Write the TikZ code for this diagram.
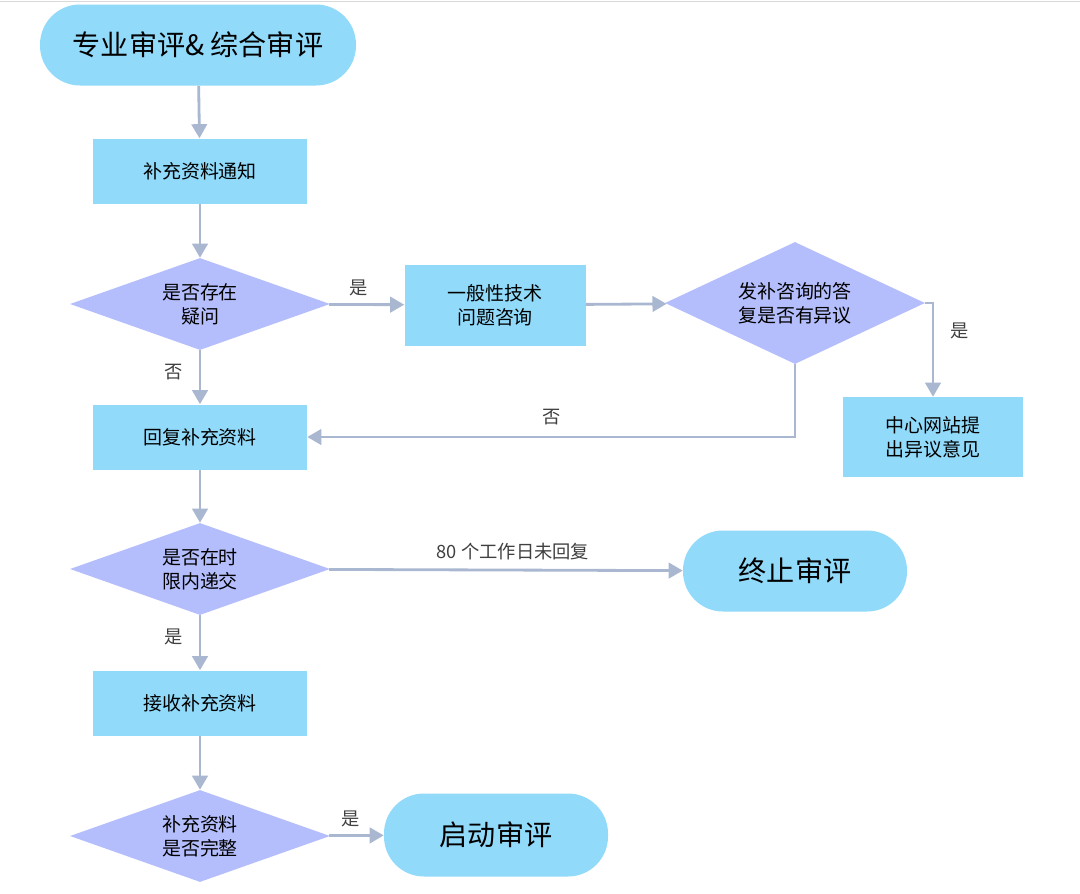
\documentclass[tikz,border=0pt]{standalone}
\usepackage{fontspec}
\setmainfont{Noto Sans CJK SC}
\usetikzlibrary{shapes.geometric,arrows.meta}
\definecolor{pillblue}{HTML}{91DAFA}
\definecolor{boxblue}{HTML}{91DAFA}
\definecolor{diamblue}{HTML}{B4BEFC}
\definecolor{arrowgray}{HTML}{A9B8D0}
\begin{document}
\begin{tikzpicture}[x=0.025cm,y=-0.025cm,
    pill/.style={rounded corners=40*0.025cm, fill=pillblue, minimum height=81*0.025cm, align=center, font=\fontsize{20}{24}\selectfont},
    box/.style={fill=boxblue, minimum width=214*0.025cm, minimum height=65*0.025cm, align=center, font=\fontsize{13.5}{17}\selectfont},
    dia/.style={diamond, fill=diamblue, aspect=2.8, minimum width=260*0.025cm, minimum height=92*0.025cm, inner sep=0pt, align=center, font=\fontsize{13.5}{17}\selectfont},
    flow/.style={-{Triangle[length=10pt,width=11pt]}, draw=arrowgray, line width=2pt},
    lbl/.style={font=\fontsize{13}{15}\selectfont, text=black!75}]
    \useasboundingbox[fill=white] (0,0) rectangle (1080,894);
    \draw[black!15] (0,1) -- (1080,1);

    % nodes
    \node[pill, minimum width=316*0.025cm] (start) at (198,45) {专业审评\& 综合审评};
    \node[box] (notice) at (200,171) {补充资料通知};
    \node[dia] (doubt) at (200,304) {是否存在\\疑问};
    \node[box, minimum width=181*0.025cm, minimum height=81*0.025cm] (consult) at (495,305) {一般性技术\\问题咨询};
    \node[dia, minimum height=122*0.025cm, aspect=2.1] (objection) at (795,303) {发补咨询的答\\复是否有异议};
    \node[box, minimum width=180*0.025cm, minimum height=80*0.025cm] (website) at (933,437) {中心网站提\\出异议意见};
    \node[box] (reply) at (200,437) {回复补充资料};
    \node[dia] (intime) at (200,569) {是否在时\\限内递交};
    \node[pill, minimum width=224*0.025cm] (stop) at (795,571) {终止审评};
    \node[box] (receive) at (200,703) {接收补充资料};
    \node[dia] (complete) at (200,836) {补充资料\\是否完整};
    \node[pill, minimum width=224*0.025cm, minimum height=83*0.025cm] (launch) at (496,835) {启动审评};

    % connectors
    \draw[flow] (start) -- (notice);
    \draw[flow] (notice) -- (doubt);
    \draw[flow] (doubt) -- node[lbl, above=2pt, pos=0.4]{是} (consult);
    \draw[flow] (doubt) -- node[lbl, left=8pt, pos=0.4]{否} (reply);
    \draw[flow] (consult) -- (objection);
    \draw[flow] (objection.east) -| node[lbl, pos=0.65, right=8pt]{是} (website.north);
    \draw[flow] (objection.south) |- node[lbl, pos=0.75, above=4pt]{否} (reply.east);
    \draw[flow] (reply) -- (intime);
    \draw[flow] (intime) -- node[lbl, above=3pt, pos=0.52]{80 个工作日未回复} (stop);
    \draw[flow] (intime) -- node[lbl, left=8pt, pos=0.4]{是} (receive);
    \draw[flow] (receive) -- (complete);
    \draw[flow] (complete) -- node[lbl, above=2pt, pos=0.4]{是} (launch);
\end{tikzpicture}
\end{document}
